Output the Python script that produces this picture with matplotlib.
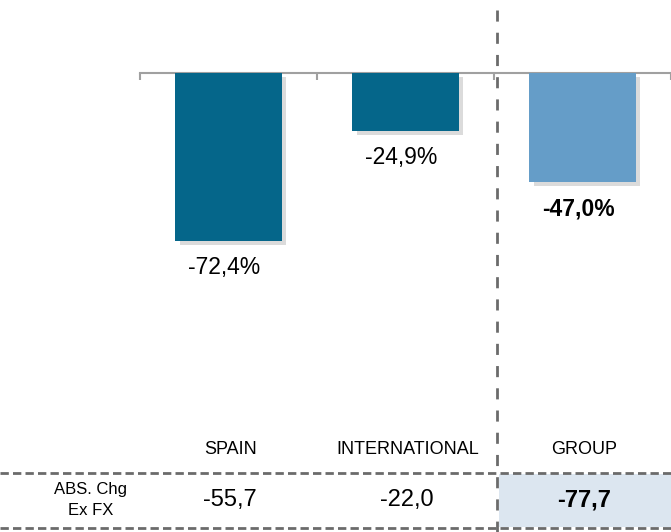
import matplotlib.pyplot as plt
import matplotlib.patheffects as pe
from matplotlib.transforms import blended_transform_factory
from matplotlib.patches import Rectangle

plt.rcParams['font.family'] = ['Liberation Sans', 'DejaVu Sans']

# Datos
categorias = ["SPAIN", "INTERNATIONAL", "GROUP"]
variacion_pct = [-72.4, -24.9, -47.0]
etiquetas_pct = ["-72,4%", "-24,9%", "-47,0%"]
abs_chg = ["-55,7", "-22,0", "-77,7"]
fila_titulo = "ABS. Chg\nEx FX"

colores = ["#05668a", "#05668a", "#659dc8"]

W, H = 671, 532
fig = plt.figure(figsize=(W / 100, H / 100), dpi=100)
ax = fig.add_axes([140 / W, 1 - 440 / H, 1 - 140 / W, 440 / H])
ax.set_xlim(-0.5, 2.5)
ax.set_ylim(-158.2, 31.5)

x = list(range(len(categorias)))
sombra = [pe.SimplePatchShadow(offset=(3, -3), shadow_rgbFace='#9a9a9a', alpha=0.35), pe.Normal()]
barras = ax.bar(x, variacion_pct, width=0.6, color=colores, zorder=3)
for b in barras:
    b.set_path_effects(sombra)

# Etiquetas bajo cada barra
for i, (v, txt) in enumerate(zip(variacion_pct, etiquetas_pct)):
    ax.annotate(txt, (i, v), xytext=(-3, -11), textcoords='offset points',
                ha='center', va='top', fontsize=16.5,
                fontweight='bold' if i == 2 else 'normal')

# Eje en cero
for s in ['top', 'left', 'right']:
    ax.spines[s].set_visible(False)
ax.spines['bottom'].set_position(('data', 0))
ax.spines['bottom'].set_color('#a0a0a0')
ax.spines['bottom'].set_linewidth(1.5)
ax.set_xticks([-0.5, 0.5, 1.5, 2.5])
ax.tick_params(axis='x', direction='out', length=5, width=1.5, color='#a0a0a0',
               labelbottom=False)
ax.set_yticks([])

# Tabla inferior
trans = blended_transform_factory(ax.transData, fig.transFigure)
fy = lambda py: 1 - py / H

fig.patches.append(Rectangle((499 / W, fy(527)), 1 - 499 / W, (527 - 474) / H,
                             transform=fig.transFigure, facecolor='#dce6f0',
                             edgecolor='none', zorder=-1))
for py in [473, 528]:
    fig.add_artist(plt.Line2D([0, 1], [fy(py), fy(py)], transform=fig.transFigure,
                              color='#6b6b6b', lw=2, ls=(0, (3, 1.5))))
fig.add_artist(plt.Line2D([497 / W, 497 / W], [fy(10), 0], transform=fig.transFigure,
                          color='#6b6b6b', lw=2, ls=(0, (4, 4))))

for i, c in enumerate(categorias):
    ax.text(i + 0.01, fy(450), c, transform=trans, ha='center', va='center',
            fontsize=13)
    ax.text(i + 0.01, fy(500), abs_chg[i], transform=trans, ha='center', va='center',
            fontsize=17, fontweight='bold' if i == 2 else 'normal', zorder=5)

fig.text(91 / W, fy(500), fila_titulo, ha='center', va='center', fontsize=12,
         linespacing=1.5)

fig.savefig('out.png', dpi=100)
